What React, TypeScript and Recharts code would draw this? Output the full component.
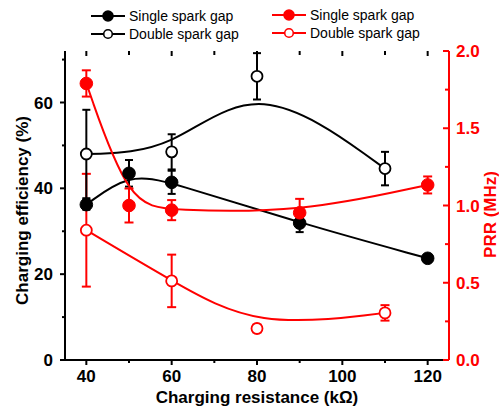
import {
  ComposedChart,
  Line,
  XAxis,
  YAxis,
  ErrorBar,
  Legend,
} from 'recharts'

// charging resistance (kΩ) for each series
const singleEffR = [40, 50, 60, 90, 120]
const singleEff = [36.2, 43.5, 41.4, 31.9, 23.7]
const singleEffErr = [1.2, 3.1, 2.7, 2.1, 0.8]

const doubleEffR = [40, 60, 80, 110]
const doubleEff = [48, 48.5, 66.1, 44.6]
const doubleEffErr = [10.3, 4.1, 5.4, 3.9]

const singlePrrR = [40, 50, 60, 90, 120]
const singlePrr = [1.79, 1.0, 0.97, 0.953, 1.133]
const singlePrrErr = [0.085, 0.11, 0.065, 0.09, 0.055]

const doublePrrR = [40, 60, 80, 110]
const doublePrr = [0.84, 0.512, 0.204, 0.305]
const doublePrrErr = [0.365, 0.17, 0.025, 0.05]

const xTicks = [40, 50, 60, 70, 80, 90, 100, 110, 120]
const effTicks = [0, 10, 20, 30, 40, 50, 60, 70]
const prrTicks = [0, 0.25, 0.5, 0.75, 1, 1.25, 1.5, 1.75, 2]

const legendLabels = ['Single spark gap', 'Double spark gap']

const RED = '#f00'
const FONT = "'Liberation Sans', Arial, sans-serif"
const TOP = 51
const BOTTOM_AXIS_H = 47

const toRows = (xs: number[], ys: number[], es: number[]) =>
  xs.map((x, i) => ({ x, y: ys[i], e: es[i] }))

const isMajor = (v: number, step: number) => Math.abs(v / step - Math.round(v / step)) < 1e-6

function LeftTick(props: any) {
  const { x, y, payload } = props
  const major = isMajor(payload.value, 20)
  const ax = x + 12
  return (
    <g>
      <line x1={ax} x2={ax - (major ? 5 : 3)} y1={y} y2={y} stroke="#000" strokeWidth={2} />
      {major && (
        <text x={x} y={y} dy="0.36em" textAnchor="end" fontFamily={FONT} fontWeight="bold" fontSize={17} fill="#000">
          {payload.value}
        </text>
      )}
    </g>
  )
}

function RightTick(props: any) {
  const { x, y, payload } = props
  const major = isMajor(payload.value, 0.5)
  const ax = x - 7
  return (
    <g>
      <line x1={ax} x2={ax - (major ? 6 : 4)} y1={y} y2={y} stroke={RED} strokeWidth={2} />
      {major && (
        <text x={x} y={y} dy="0.36em" textAnchor="start" fontFamily={FONT} fontWeight="bold" fontSize={17} fill={RED}>
          {payload.value.toFixed(1)}
        </text>
      )}
    </g>
  )
}

// bottom axis tick, plus the matching inward tick on the top frame
function BottomTick(props: any) {
  const { x, y, payload } = props
  const major = isMajor(payload.value, 20)
  const ay = y - 10
  return (
    <g>
      <line x1={x} x2={x} y1={ay} y2={ay + (major ? 5 : 3)} stroke="#000" strokeWidth={2} />
      <line x1={x} x2={x} y1={TOP} y2={TOP + (major ? 5 : 4)} stroke="#000" strokeWidth={2} />
      {major && (
        <text x={x} y={y} dy="0.72em" textAnchor="middle" fontFamily={FONT} fontWeight="bold" fontSize={17} fill="#000">
          {payload.value}
        </text>
      )}
    </g>
  )
}

function Sample({ x, y, color, filled }: { x: number; y: number; color: string; filled: boolean }) {
  return (
    <g>
      <line x1={x} x2={x + 34} y1={y} y2={y} stroke={color} strokeWidth={2} />
      <circle cx={x + 17} cy={y} r={filled ? 5 : 4.3} fill={filled ? color : '#fff'} stroke={color} strokeWidth={1.6} />
    </g>
  )
}

function LegendBox() {
  const cols = [
    { x: 91, color: '#000', rows: [16, 34] },
    { x: 272, color: RED, rows: [15, 33] },
  ]
  return (
    <svg width={499} height={45}>
      {cols.map((c) =>
        legendLabels.map((label, i) => (
          <g key={c.x + label}>
            <Sample x={c.x} y={c.rows[i]} color={c.color} filled={i === 0} />
            <text x={c.x + 38} y={c.rows[i]} dy="0.35em" fontFamily={FONT} fontSize={14} fill="#000">
              {label}
            </text>
          </g>
        ))
      )}
    </svg>
  )
}

const axisTitle = { fontFamily: FONT, fontWeight: 'bold' as const, fontSize: 17 }

export default function App() {
  return (
    <div style={{ position: 'fixed', left: 0, top: 0, width: 499, height: 407, background: '#fff' }}>
      <ComposedChart width={499} height={407} margin={{ top: TOP, right: 0, bottom: 0, left: 0 }}>
        <XAxis
          dataKey="x"
          type="number"
          domain={[35, 125]}
          ticks={xTicks}
          interval={0}
          height={BOTTOM_AXIS_H}
          tickSize={0}
          tickMargin={10}
          tickLine={false}
          axisLine={{ stroke: '#000', strokeWidth: 2 }}
          tick={<BottomTick />}
          label={{
            content: (p: any) => (
              <text x={p.viewBox.x + p.viewBox.width / 2} y={p.viewBox.y + BOTTOM_AXIS_H - 4} textAnchor="middle" {...axisTitle} fill="#000">
                Charging resistance (kΩ)
              </text>
            ),
          }}
        />
        <XAxis
          xAxisId="top"
          orientation="top"
          type="number"
          domain={[35, 125]}
          height={0}
          tick={false}
          tickLine={false}
          axisLine={{ stroke: '#000', strokeWidth: 2 }}
        />
        <YAxis
          yAxisId="l"
          domain={[0, 72]}
          ticks={effTicks}
          interval={0}
          width={65}
          tickSize={0}
          tickMargin={12}
          tickLine={false}
          axisLine={{ stroke: '#000', strokeWidth: 2 }}
          tick={<LeftTick />}
          label={{
            content: (p: any) => (
              <text
                transform={`translate(${p.viewBox.x + 22}, ${p.viewBox.y + p.viewBox.height / 2 + 5}) rotate(-90)`}
                dy="0.36em"
                textAnchor="middle"
                {...axisTitle}
                fill="#000"
              >
                Charging efficiency (%)
              </text>
            ),
          }}
        />
        <YAxis
          yAxisId="r"
          orientation="right"
          domain={[0, 2]}
          ticks={prrTicks}
          interval={0}
          width={50}
          tickSize={0}
          tickMargin={7}
          tickLine={false}
          axisLine={{ stroke: RED, strokeWidth: 2 }}
          tick={<RightTick />}
          label={{
            content: (p: any) => (
              <text
                transform={`translate(${p.viewBox.x + 41}, ${p.viewBox.y + p.viewBox.height / 2 + 9}) rotate(-90)`}
                dy="0.36em"
                textAnchor="middle"
                {...axisTitle}
                fill={RED}
              >
                PRR (MHz)
              </text>
            ),
          }}
        />
        <Legend
          layout="horizontal"
          verticalAlign="middle"
          align="center"
          wrapperStyle={{ position: 'absolute', top: 0, left: 0, width: 499, height: 45 }}
          content={() => <LegendBox />}
        />

        <Line
          yAxisId="r"
          data={toRows(doublePrrR, doublePrr, doublePrrErr)}
          dataKey="y"
          type="basis"
          stroke={RED}
          strokeWidth={2}
          dot={{ r: 5.5, fill: '#fff', stroke: RED, strokeWidth: 1.8 }}
          isAnimationActive={false}
        >
          <ErrorBar dataKey="e" width={4.5} stroke={RED} strokeWidth={2} />
        </Line>
        <Line
          yAxisId="l"
          data={toRows(singleEffR, singleEff, singleEffErr)}
          dataKey="y"
          type="basis"
          stroke="#000"
          strokeWidth={2}
          dot={{ r: 6.3, fill: '#000', stroke: '#000', strokeWidth: 1 }}
          isAnimationActive={false}
        >
          <ErrorBar dataKey="e" width={4} stroke="#000" strokeWidth={2} />
        </Line>
        <Line
          yAxisId="l"
          data={toRows(doubleEffR, doubleEff, doubleEffErr)}
          dataKey="y"
          type="basis"
          stroke="#000"
          strokeWidth={2}
          dot={{ r: 5.5, fill: '#fff', stroke: '#000', strokeWidth: 1.8 }}
          isAnimationActive={false}
        >
          <ErrorBar dataKey="e" width={4} stroke="#000" strokeWidth={2} />
        </Line>
        <Line
          yAxisId="r"
          data={toRows(singlePrrR, singlePrr, singlePrrErr)}
          dataKey="y"
          type="basis"
          stroke={RED}
          strokeWidth={2}
          dot={{ r: 6.3, fill: RED, stroke: RED, strokeWidth: 1 }}
          isAnimationActive={false}
        >
          <ErrorBar dataKey="e" width={4.5} stroke={RED} strokeWidth={2} />
        </Line>
      </ComposedChart>
    </div>
  )
}
